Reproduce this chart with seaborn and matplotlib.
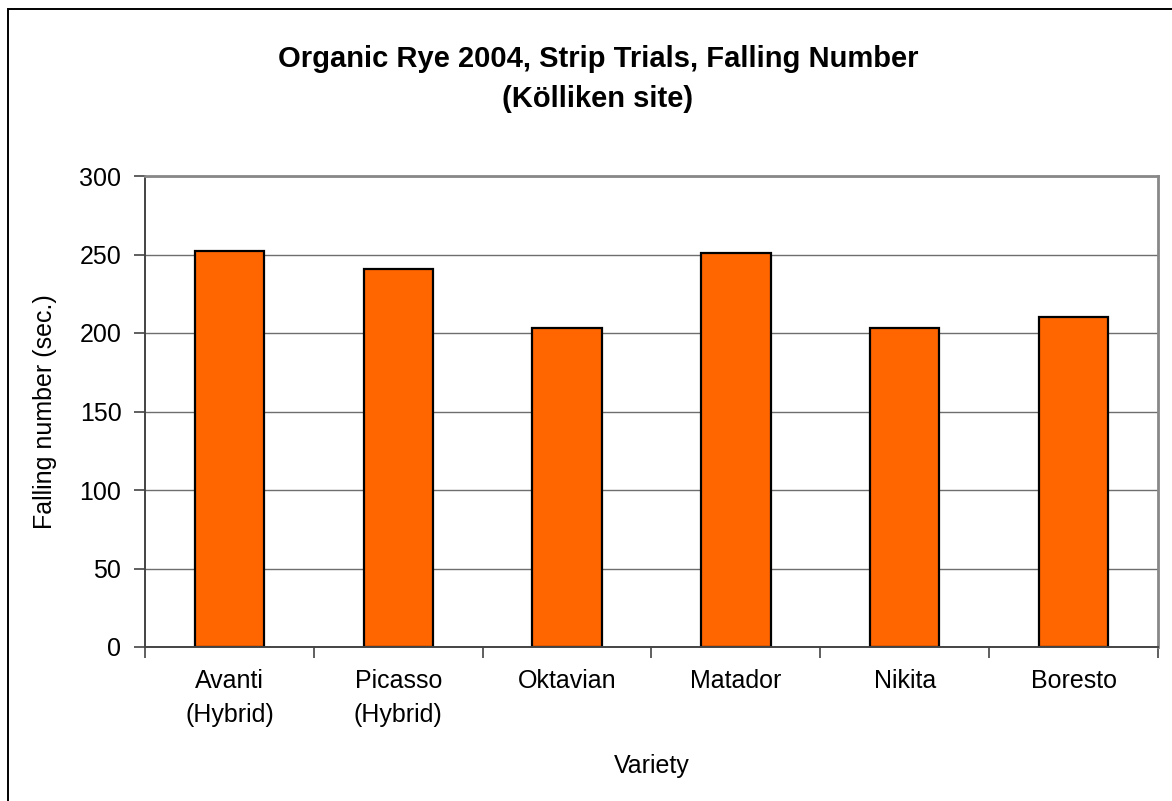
import matplotlib
matplotlib.use("Agg")
import matplotlib.pyplot as plt
import seaborn as sns
import pandas as pd
from matplotlib.patches import Rectangle

varieties = ["Avanti\n(Hybrid)", "Picasso\n(Hybrid)", "Oktavian", "Matador", "Nikita", "Boresto"]
falling_number = [252, 241, 203, 251, 203, 210]
y_ticks = [0, 50, 100, 150, 200, 250, 300]

sns.set_theme(style="white")
plt.rcParams['font.family'] = ['Liberation Sans', 'DejaVu Sans']
plt.rcParams['text.color'] = 'black'
plt.rcParams['axes.labelcolor'] = 'black'
plt.rcParams['xtick.color'] = 'black'
plt.rcParams['ytick.color'] = 'black'

df = pd.DataFrame({"Variety": varieties, "Falling": falling_number})

fig = plt.figure(figsize=(11.72, 8.01), dpi=100)
ax = fig.add_axes([145/1172, 1-647/801, (1158-145)/1172, (647-176)/801])

sns.barplot(data=df, x="Variety", y="Falling", ax=ax, color="#FF6600",
            width=0.41, edgecolor="black", linewidth=1.6, saturation=1)

ax.set_ylim(0, 300)
ax.set_xlim(-0.5, len(varieties) - 0.5)
ax.set_yticks(y_ticks)
ax.set_yticklabels([str(t) for t in y_ticks], fontsize=18)
ax.yaxis.grid(True, color="#6e6e6e", linewidth=1.0)
ax.set_axisbelow(True)

ax.set_xticks(range(len(varieties)))
ax.set_xticklabels(varieties, fontsize=18, linespacing=1.5)
ax.tick_params(axis="x", which="major", length=0, pad=16)
ax.set_xticks([i - 0.5 for i in range(len(varieties) + 1)], minor=True)
ax.tick_params(axis="x", which="minor", length=8, width=1.2, color="#444444", bottom=True)
ax.tick_params(axis="y", which="major", length=8, width=1.2, color="#444444", left=True, pad=9)

for s in ["top", "right"]:
    ax.spines[s].set_color("#888888")
    ax.spines[s].set_linewidth(2.0)
for s in ["left", "bottom"]:
    ax.spines[s].set_color("#444444")
    ax.spines[s].set_linewidth(1.4)

ax.set_xlabel("Variety", fontsize=18, labelpad=20)
ax.set_ylabel("Falling number (sec.)", fontsize=18, labelpad=16)

fig.text(598/1172, 1-67/801, "Organic Rye 2004, Strip Trials, Falling Number",
         ha="center", va="baseline", fontsize=21, fontweight="bold")
fig.text(598/1172, 1-107/801, "(Kölliken site)",
         ha="center", va="baseline", fontsize=21, fontweight="bold")

fig.patches.append(Rectangle((8/1172, -0.05), 1.2, 1 - 9/801 + 0.05, transform=fig.transFigure,
                             fill=False, edgecolor="black", linewidth=1.4))

fig.savefig("out.png", dpi=100)
